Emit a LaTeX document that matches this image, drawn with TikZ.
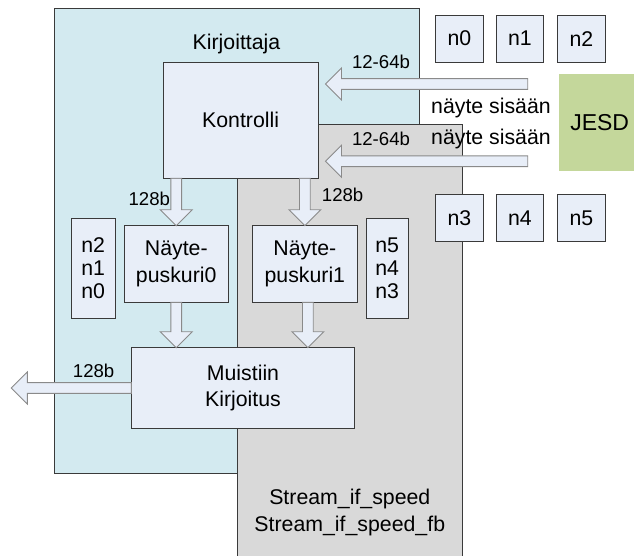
\documentclass[tikz,border=0pt]{standalone}
\usepackage{fontspec}
\setmainfont{Liberation Sans}
\usetikzlibrary{calc}

\definecolor{kirjbg}{HTML}{D3EAF0}
\definecolor{streambg}{HTML}{D9D9D9}
\definecolor{blockfill}{HTML}{E8EEF8}
\definecolor{jesdgreen}{HTML}{C4D79B}
\definecolor{blockline}{HTML}{3A3A3A}
\definecolor{arrowline}{HTML}{8A8A8A}

% Broad block arrow from #1 (tail) to #2 (tip)
\newcommand\fatarrow[2]{%
  \coordinate (fa-h) at ($(#2)!16pt!(#1)$);
  \draw[fatarrowstyle]
    ($(#1)!5.4pt!90:(#2)$) -- ($(fa-h)!5.4pt!90:(#2)$) -- ($(fa-h)!16pt!90:(#2)$)
    -- (#2)
    -- ($(fa-h)!16pt!-90:(#2)$) -- ($(fa-h)!5.4pt!-90:(#2)$) -- ($(#1)!5.4pt!-90:(#2)$)
    -- cycle;}

\begin{document}
\begin{tikzpicture}[x=1pt,y=-1pt,
  font=\fontsize{21.3}{26.7}\selectfont,
  region/.style={draw=blockline, line width=0.8pt, inner sep=0pt, outer sep=0pt},
  block/.style={draw=blockline, line width=0.9pt, fill=blockfill, align=center,
    inner sep=0pt, outer sep=0pt},
  smallblock/.style={block, minimum width=47.7pt, minimum height=47.3pt},
  lbl/.style={font=\fontsize{18.6}{22}\selectfont},
  fatarrowstyle/.style={draw=arrowline, line width=0.9pt, fill=blockfill, line join=miter}]
\useasboundingbox (0,0) rectangle (634,556);

% background regions
\node[region, fill=kirjbg, minimum width=365.1pt, minimum height=465pt] (kirj) at (237.15,240.8) {};
\node[region, fill=streambg, minimum width=224.8pt, minimum height=434pt] (stream) at (349.8,341) {};
\node (kirjtitle) at (236.5,43.5) {Kirjoittaja};
\node[align=center] (streamtitle) at (349.8,512.7) {Stream\_if\_speed\\Stream\_if\_speed\_fb};

% sample source
\node[fill=jesdgreen, inner sep=0pt, minimum width=80.7pt, minimum height=97pt,
  font=\fontsize{23}{27}\selectfont] (jesd) at (599.65,122.5) {JESD};
\node[smallblock] (n0) at (459.35,38.65) {n0};
\node[smallblock] (n1) at (519.85,38.65) {n1};
\node[smallblock] (n2) at (581.45,38.65) {n2};
\node[smallblock] (n3) at (459.35,217.85) {n3};
\node[smallblock] (n4) at (519.85,217.85) {n4};
\node[smallblock] (n5) at (581.45,217.85) {n5};

% writer blocks
\node[block, minimum width=155.2pt, minimum height=116pt] (k) at (240.6,120.3) {Kontrolli};
\node[block, minimum width=104.5pt, minimum height=76.6pt] (p0) at (176.25,264) {Näyte-\\puskuri0};
\node[block, minimum width=104.3pt, minimum height=76.6pt] (p1) at (304.85,264) {Näyte-\\puskuri1};
\node[block, minimum width=44pt, minimum height=100pt,
  font=\fontsize{21.3}{23.2}\selectfont] (q0) at (93.2,268.3) {n2\\n1\\n0};
\node[block, minimum width=42.4pt, minimum height=100pt,
  font=\fontsize{21.3}{23.2}\selectfont] (q1) at (387.2,268.3) {n5\\n4\\n3};
\node[block, minimum width=223.2pt, minimum height=80.6pt] (m) at (243,388) {Muistiin\\Kirjoitus};

% arrow end points
\coordinate (in1) at (527.7,84);
\coordinate (in2) at (527.7,161.3);
\coordinate (tip1) at ($(k.east |- in1)+(7.3,0)$);
\coordinate (tip2) at ($(k.east |- in2)+(7.3,0)$);
\coordinate (out) at (11.3,388);
\coordinate (d4) at ($(p1.south)+(3,0)$);

% data paths
\fatarrow{in1}{tip1}
\fatarrow{in2}{tip2}
\fatarrow{p0.north |- k.south}{p0.north}
\fatarrow{p1.north |- k.south}{p1.north}
\fatarrow{p0.south}{p0.south |- m.north}
\fatarrow{d4}{d4 |- m.north}
\fatarrow{m.west}{out}

% labels
\node[lbl] (w1) at (381,62.3) {12-64b};
\node[lbl] (w2) at (381,139.3) {12-64b};
\node (s1) at (491,108.3) {näyte sisään};
\node (s2) at (491,139.3) {näyte sisään};
\node[lbl] (b1) at (149.3,199.3) {128b};
\node[lbl] (b2) at (342.6,195) {128b};
\node[lbl] (b3) at (93.6,371) {128b};
\end{tikzpicture}
\end{document}
